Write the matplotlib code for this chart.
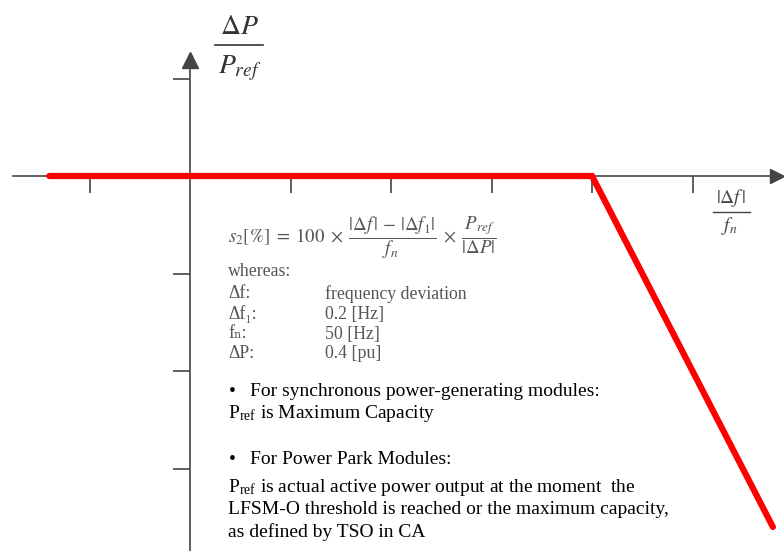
import numpy as np
import matplotlib.pyplot as plt
from matplotlib.lines import Line2D

plt.rcParams['font.family'] = ['Liberation Serif', 'DejaVu Serif']
plt.rcParams['mathtext.fontset'] = 'stix'

# droop characteristic (units of tick spacing): flat, then slope down
df_points = [-1.4, 4.0, 5.8]
dp_points = [0.0, 0.0, -3.6]
x_ticks = [-1, 1, 2, 3, 4, 5]
y_ticks = [1, -1, -2, -3]

legend_rows = [
    ("Δf:", "frequency deviation"),
    ("Δf\u2081:", "0.2 [Hz]"),
    ("f\u2099:", "50 [Hz]"),
    ("ΔP:", "0.4 [pu]"),
]

W, H = 784, 551
x0, y0 = 190, 176      # origin in pixels
ux, uy = 100.5, 97.5   # pixels per unit

fig = plt.figure(figsize=(W / 100, H / 100), dpi=100)
ax = fig.add_axes([0, 0, 1, 1])
ax.set_xlim(-x0 / ux, (W - x0) / ux)
ax.set_ylim(-(H - y0) / uy, y0 / uy)

axis_col = '#444444'
for s in ['top', 'right']:
    ax.spines[s].set_visible(False)
ax.spines['left'].set_position(('data', 0))
ax.spines['bottom'].set_position(('data', 0))
ax.spines['left'].set_bounds(-(H - y0) / uy, (y0 - 66) / uy)
ax.spines['bottom'].set_bounds((13 - x0) / ux, (776 - x0) / ux)
for s in ['left', 'bottom']:
    ax.spines[s].set_color(axis_col)
    ax.spines[s].set_linewidth(1.2)

ax.set_xticks(x_ticks)
ax.set_yticks(y_ticks)
ax.tick_params(direction='out', length=12, width=1.2, color=axis_col,
               labelbottom=False, labelleft=False)

# arrow heads
ax.plot([(777 - x0) / ux], [0], marker='>', markersize=10, color=axis_col, clip_on=False)
ax.plot([0], [(y0 - 60) / uy], marker='^', markersize=11, color=axis_col, clip_on=False)

ax.plot(df_points, dp_points, color='red', linewidth=4.5, solid_capstyle='round',
        solid_joinstyle='miter', zorder=5)


def px(x, y):
    return x / W, 1 - y / H


def hbar(xa, xb, y, lw, col):
    fig.add_artist(Line2D([xa / W, xb / W], [1 - y / H, 1 - y / H], lw=lw, color=col))


# y label
fig.text(*px(239, 27), r'$\Delta P$', fontsize=20, ha='center', va='center', color='#333333')
hbar(215, 263, 45, 1.2, '#333333')
fig.text(*px(240, 68), r'$P_{ref}$', fontsize=20, ha='center', va='center', color='#333333')

# x label
fig.text(*px(731, 198), r'$|\Delta f\,|$', fontsize=14, ha='center', va='center', color='#444444')
hbar(713, 750, 212, 1.0, '#444444')
fig.text(*px(729, 226), r'$f_n$', fontsize=14, ha='center', va='center', color='#444444')

fig.text(*px(228, 238),
         r'$s_2[\%]\;=\;100\;\times\;\dfrac{|\Delta f\,|\,-\,|\Delta f_1|}{f_n}\;\times\;\dfrac{P_{ref}}{|\Delta P|}$',
         fontsize=13.6, ha='left', va='center', color='#555555')

grey = '#555555'
fs1 = 12.8
fig.text(*px(228, 272), 'whereas:', fontsize=fs1, ha='left', va='center', color=grey)
for i, (k, v) in enumerate(legend_rows):
    yy = 294 + i * 20
    fig.text(*px(228, yy), k, fontsize=fs1, ha='left', va='center', color=grey)
    fig.text(*px(325, yy), v, fontsize=fs1, ha='left', va='center', color=grey)

dark = '#000000'
fs = 14.0
fig.text(*px(229, 391), '•', fontsize=fs, ha='left', va='center', color=dark)
fig.text(*px(250, 391), 'For synchronous power-generating modules:', fontsize=fs,
         ha='left', va='center', color=dark)
fig.text(*px(228, 413), r'P$_{\mathregular{ref}}$ is Maximum Capacity', fontsize=fs,
         ha='left', va='center', color=dark)
fig.text(*px(229, 460), '•', fontsize=fs, ha='left', va='center', color=dark)
fig.text(*px(250, 460), 'For Power Park Modules:', fontsize=fs,
         ha='left', va='center', color=dark)
fig.text(*px(228, 487), r'P$_{\mathregular{ref}}$ is actual active power output at the moment  the',
         fontsize=fs, ha='left', va='center', color=dark)
fig.text(*px(228, 509), 'LFSM-O threshold is reached or the maximum capacity,',
         fontsize=fs, ha='left', va='center', color=dark)
fig.text(*px(228, 532), 'as defined by TSO in CA', fontsize=fs, ha='left', va='center',
         color=dark)

fig.savefig('out.png', dpi=100)
